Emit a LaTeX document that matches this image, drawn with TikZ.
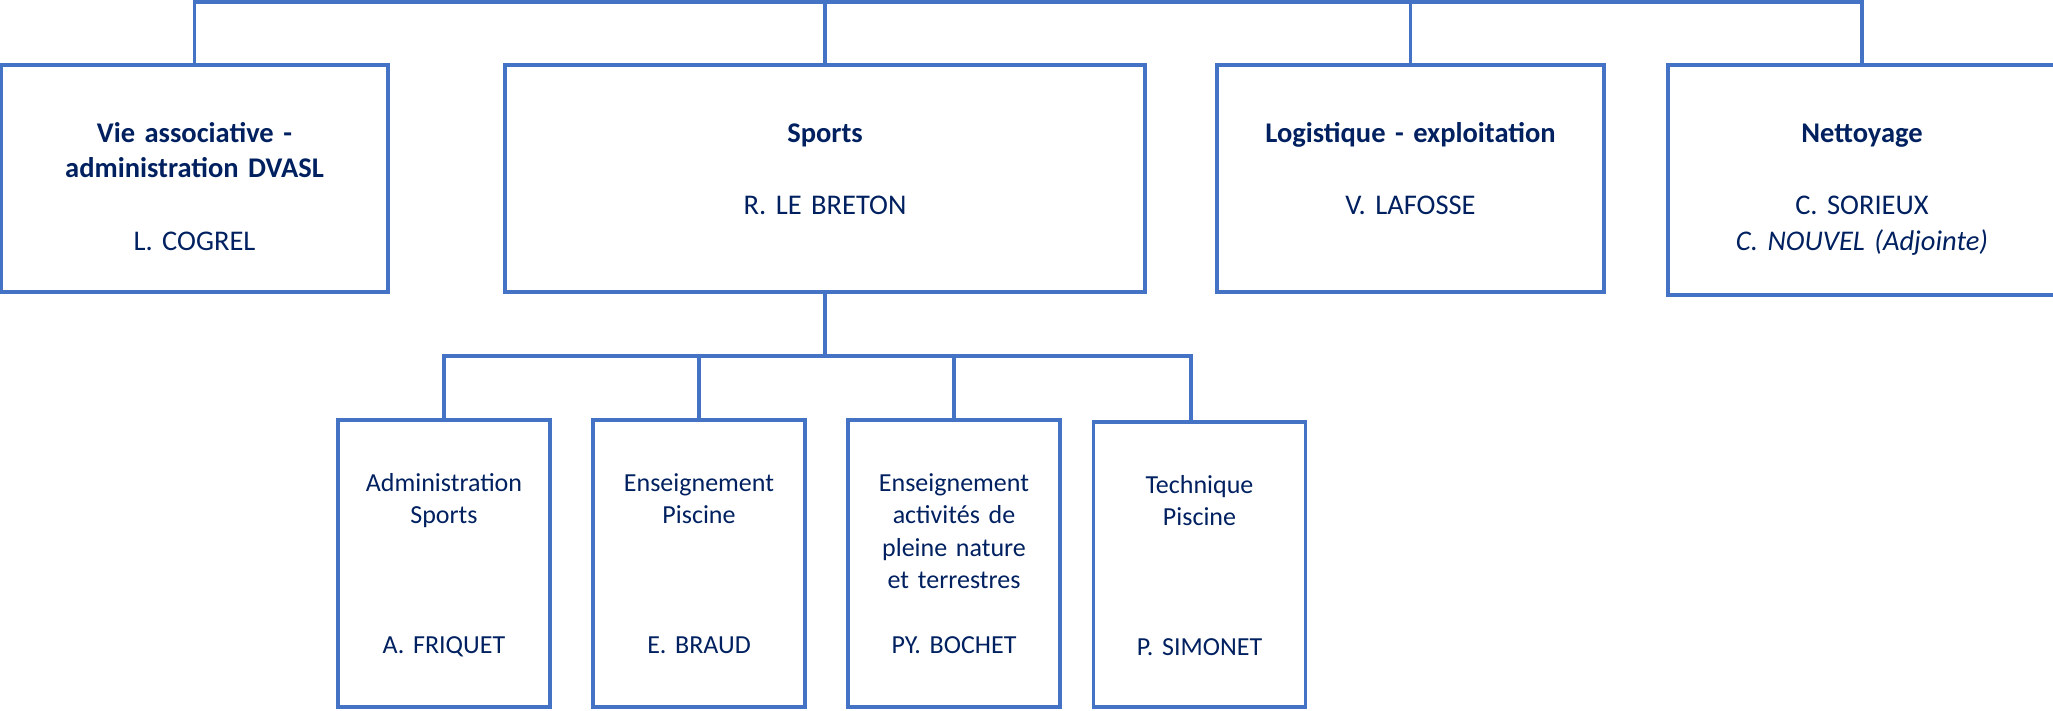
\documentclass[tikz,border=0pt]{standalone}
\usepackage{fontspec}
\setmainfont{Carlito}
\frenchspacing
\definecolor{orgblue}{HTML}{4472C4}
\definecolor{orgnavy}{HTML}{002060}
\newcommand{\Drop}[2]{\draw [link] (#1.north) -- (#1.north |- #2);}

\begin{document}
\begin{tikzpicture}
[x=1pt,y=-1pt,
 link/.style={draw=orgblue,line width=3.5pt},
 unit/.style={draw=orgblue,line width=3.5pt,anchor=north,inner sep=0pt,outer sep=0pt,
   align=center,text=orgnavy,font=\fontsize{28.5}{35.5}\selectfont,
   text height=77pt,text depth=150pt},
 team/.style={unit,font=\fontsize{26}{32.5}\selectfont,text width=212pt,
   text height=71pt,text depth=216pt},]

\useasboundingbox (0,0) rectangle (2053,710);

\node [unit,text width=387pt] at (194.5,65) (vie) {\textbf{Vie associative -}\\\textbf{administration DVASL}\\[37pt]L. COGREL};
\node [unit,text width=640pt] at (825,65) (sports) {\textbf{Sports}\\[37pt]R. LE BRETON};
\node [unit,text width=387pt] at (1410.5,65) (logi) {\textbf{Logistique - exploitation}\\[37pt]V. LAFOSSE};
\node [unit,text width=388pt,text depth=153pt] at (1862,65) (nett) {\textbf{Nettoyage}\\[37pt]C. SORIEUX\\\textit{C. NOUVEL (Adjointe)}};

\node [team] at (444,420) (adm) {Administration\\Sports\\[97.5pt]A. FRIQUET};
\node [team] at (699,420) (pisc) {Enseignement\\Piscine\\[97.5pt]E. BRAUD};
\node [team] at (954,420) (apn) {Enseignement\\activités de\\pleine nature\\et terrestres\\[32.5pt]PY. BOCHET};
\node [team,text depth=214pt] at (1199.5,422) (tech) {Technique\\Piscine\\[97.5pt]P. SIMONET};

\coordinate (top) at (0,2);
\coordinate (bar) at (0,356);
\coordinate (hook) at (1191,356);

\draw [link] (vie.north) |- (top -| nett.north) -- (nett.north);
\Drop{sports}{top}
\Drop{logi}{top}
\draw [link] (sports.south) -- (sports.south |- bar);
\draw [link] (adm.north) |- (hook) -- (hook |- tech.north);
\Drop{pisc}{bar}
\Drop{apn}{bar}
\end{tikzpicture}
\end{document}
